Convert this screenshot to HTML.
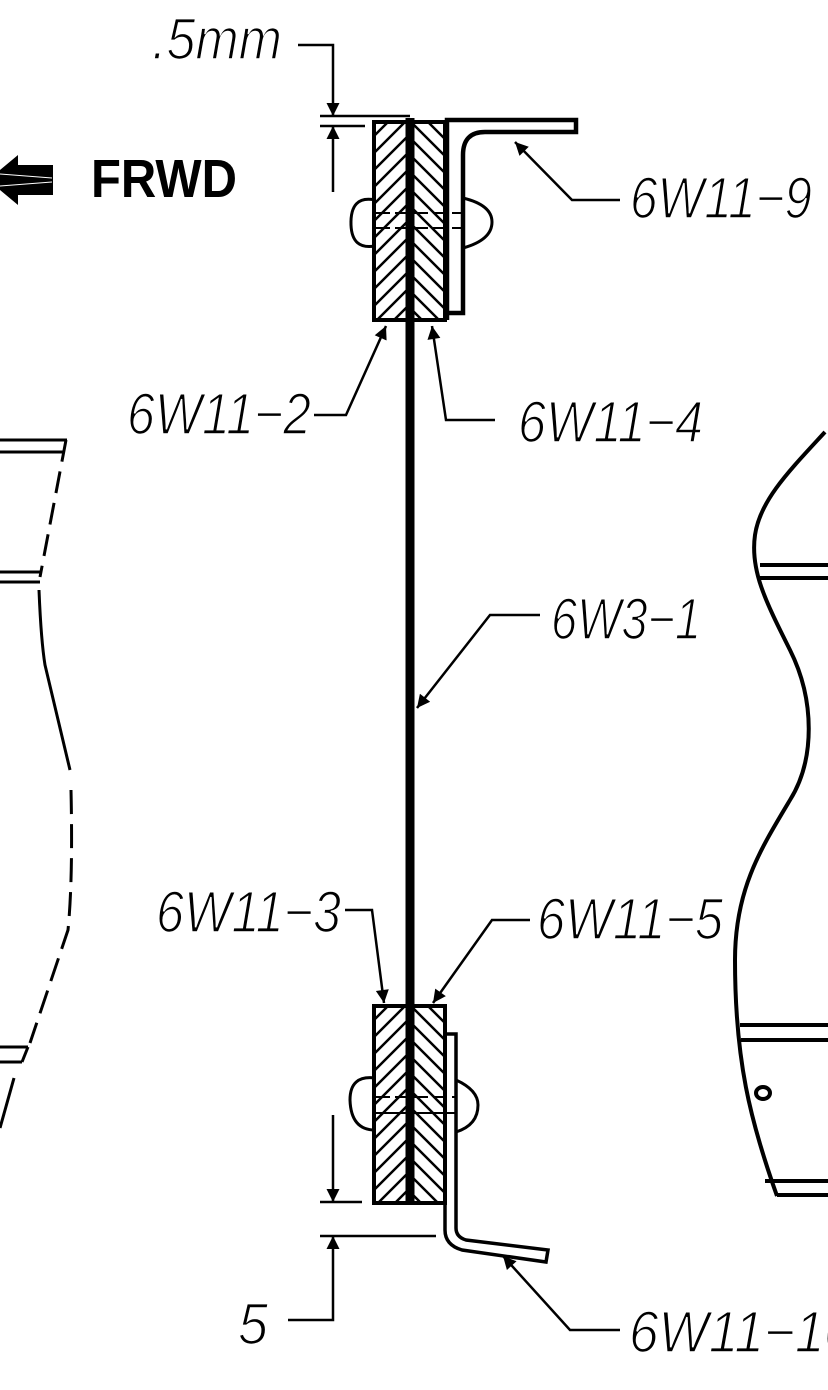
<!DOCTYPE html>
<html><head><meta charset="utf-8"><style>
html,body{margin:0;padding:0;background:#fff}
svg{display:block}
text{font-family:"Liberation Sans",sans-serif;font-style:italic;font-size:58px;fill:#000}
text.l{stroke:#fff;stroke-width:1.6px}
</style></head><body>
<svg width="828" height="1390" viewBox="0 0 828 1390" xmlns="http://www.w3.org/2000/svg">
<defs>
<pattern id="hl" patternUnits="userSpaceOnUse" width="17" height="17">
<path d="M-2,19 L19,-2 M-2,2 L2,-2 M15,19 L19,15" stroke="#000" stroke-width="2.5"/>
</pattern>
<pattern id="hr" patternUnits="userSpaceOnUse" width="17" height="17">
<path d="M-2,-2 L19,19 M-2,15 L2,19 M15,-2 L19,2" stroke="#000" stroke-width="2.5"/>
</pattern>
<marker id="ah" viewBox="0 0 10 10" refX="10" refY="5" markerWidth="28" markerHeight="13" markerUnits="userSpaceOnUse" orient="auto">
<path d="M0,0 L10,5 L0,10 z" fill="#000"/>
</marker>
</defs>
<g fill="none" stroke="#000" stroke-width="3">
<line x1="410" y1="118" x2="410" y2="1205" stroke-width="9"/>
<rect x="409" y="124" width="34" height="195" fill="url(#hr)" stroke="none"/>
<rect x="376" y="124" width="34" height="195" fill="url(#hl)" stroke="none"/>
<rect x="374" y="122" width="71" height="198" stroke-width="4"/>
<line x1="410" y1="118" x2="410" y2="320" stroke-width="9"/>
<path d="M447,320 V120 H576 V132 H485 Q463,132 463,155 V313 H447" stroke-width="4.5"/>
<path d="M375,200 Q350,195 351,225 Q352,250 375,246" stroke-width="3"/>
<path d="M463,198 Q492,205 492,222 Q492,240 463,248" stroke-width="3"/>
<line x1="376" y1="213" x2="463" y2="213" stroke-width="2" stroke-dasharray="14,5"/>
<line x1="376" y1="228" x2="463" y2="228" stroke-width="2" stroke-dasharray="14,5"/>
<rect x="409" y="1008" width="34" height="194" fill="url(#hr)" stroke="none"/>
<rect x="376" y="1008" width="34" height="194" fill="url(#hl)" stroke="none"/>
<rect x="374" y="1006" width="71" height="197" stroke-width="4"/>
<line x1="410" y1="1000" x2="410" y2="1203" stroke-width="9"/>
<path d="M445,1034 H456 V1228 Q456,1237 466,1240 L548,1250 L546,1262 L462,1250 Q445,1245 445,1230 V1203" stroke-width="3.5"/>
<path d="M375,1078 Q350,1075 350,1100 Q351,1130 375,1130" stroke-width="3"/>
<path d="M456,1080 Q478,1090 478,1105 Q478,1125 456,1132" stroke-width="3"/>
<line x1="376" y1="1097" x2="456" y2="1097" stroke-width="2" stroke-dasharray="14,5"/>
<line x1="376" y1="1113" x2="456" y2="1113" stroke-width="2"/>
<g stroke-width="2.5">
<line x1="320" y1="116" x2="410" y2="116"/>
<line x1="320" y1="126" x2="365" y2="126"/>
<polyline points="298,45 333,45 333,116" marker-end="url(#ah)"/>
<line x1="333" y1="192" x2="333" y2="126" marker-end="url(#ah)"/>
<line x1="320" y1="1202" x2="362" y2="1202"/>
<line x1="320" y1="1236" x2="436" y2="1236"/>
<line x1="333" y1="1115" x2="333" y2="1202" marker-end="url(#ah)"/>
<polyline points="288,1320 333,1320 333,1236" marker-end="url(#ah)"/>
<polyline points="620,200 572,200 515,142" marker-end="url(#ah)"/>
<polyline points="314,415 346,415 386,326" marker-end="url(#ah)"/>
<polyline points="495,420 446,420 432,326" marker-end="url(#ah)"/>
<polyline points="540,615 490,615 417,708" marker-end="url(#ah)"/>
<polyline points="345,910 372,910 384,1003" marker-end="url(#ah)"/>
<polyline points="530,920 492,920 433,1003" marker-end="url(#ah)"/>
<polyline points="620,1330 570,1330 503,1256" marker-end="url(#ah)"/>
</g>
<g stroke-width="3">
<line x1="0" y1="440" x2="67" y2="440"/>
<line x1="0" y1="452" x2="63" y2="452"/>
<path d="M66,440 L40,577" stroke-dasharray="22,10"/>
<line x1="0" y1="572" x2="40" y2="572"/>
<line x1="0" y1="582" x2="40" y2="582"/>
<path d="M39,590 Q41,640 45,665 L70,770"/>
<path d="M71,790 Q73,880 68,930 L30,1043" stroke-dasharray="24,10"/>
<line x1="0" y1="1047" x2="28" y2="1047"/>
<line x1="0" y1="1062" x2="22" y2="1062"/>
<line x1="28" y1="1047" x2="22" y2="1062"/>
<line x1="14" y1="1078" x2="0" y2="1128"/>
</g>
<g stroke-width="4">
<path d="M825,432 C790,470 760,500 755,535 C750,570 765,600 790,650 C815,700 815,760 790,800 C760,850 735,890 735,960 C735,1060 750,1120 777,1196"/>
<line x1="760" y1="565" x2="828" y2="565"/>
<line x1="758" y1="578" x2="828" y2="578"/>
<line x1="740" y1="1025" x2="828" y2="1025"/>
<line x1="741" y1="1040" x2="828" y2="1040"/>
<line x1="765" y1="1181" x2="828" y2="1181"/>
<line x1="777" y1="1195" x2="828" y2="1195"/>
<ellipse cx="763" cy="1093" rx="7" ry="6"/>
</g>
</g>
<rect x="12" y="165" width="41" height="30" fill="#000"/>
<path d="M18,155 L-12,180 L18,205 z" fill="#000"/>
<line x1="0" y1="174" x2="52" y2="178" stroke="#fff" stroke-width="1"/>
<line x1="0" y1="186" x2="52" y2="182" stroke="#fff" stroke-width="1"/>
<text x="91" y="197" style="font-style:normal;font-weight:bold;font-size:54px" textLength="146" lengthAdjust="spacingAndGlyphs">FRWD</text>
<text class="l" x="152" y="59" textLength="130" lengthAdjust="spacingAndGlyphs">.5mm</text>
<text class="l" x="630" y="218" textLength="182" lengthAdjust="spacingAndGlyphs">6W11−9</text>
<text class="l" x="127" y="434" textLength="184" lengthAdjust="spacingAndGlyphs">6W11−2</text>
<text class="l" x="518" y="442" textLength="185" lengthAdjust="spacingAndGlyphs">6W11−4</text>
<text class="l" x="551" y="639" textLength="150" lengthAdjust="spacingAndGlyphs">6W3−1</text>
<text class="l" x="156" y="932" textLength="185" lengthAdjust="spacingAndGlyphs">6W11−3</text>
<text class="l" x="537" y="939" textLength="186" lengthAdjust="spacingAndGlyphs">6W11−5</text>
<text class="l" x="238" y="1344" textLength="30" lengthAdjust="spacingAndGlyphs">5</text>
<text class="l" x="629" y="1352" textLength="225" lengthAdjust="spacingAndGlyphs">6W11−10</text>
</svg>
</body></html>
